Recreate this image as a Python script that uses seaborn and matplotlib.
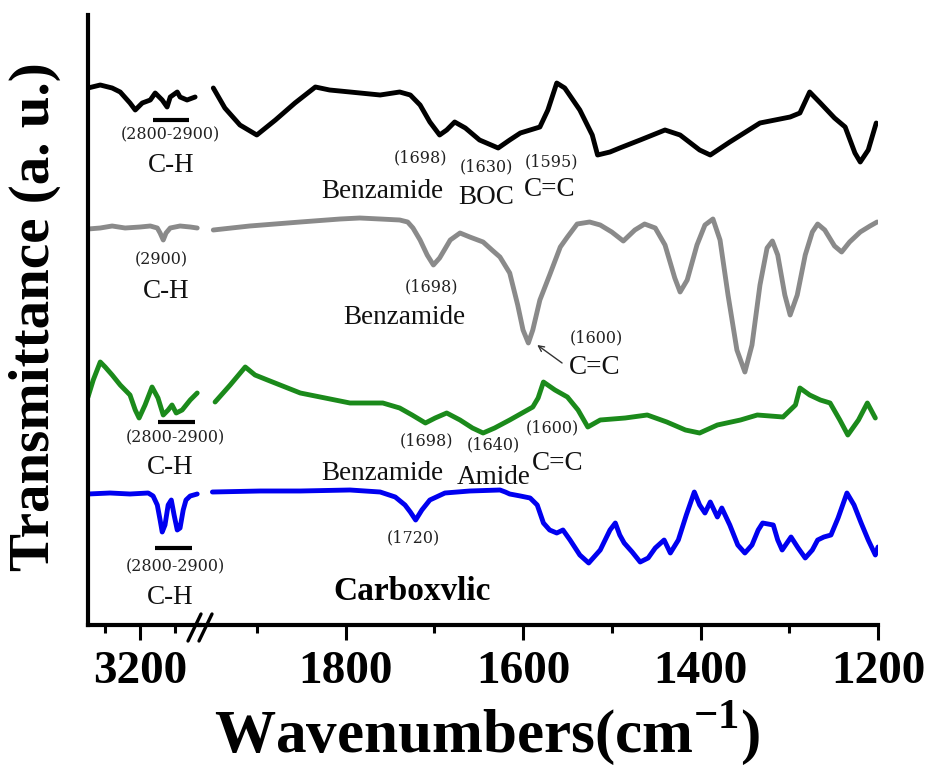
import matplotlib
matplotlib.use("Agg")
import matplotlib.pyplot as plt
import seaborn as sns
from matplotlib.lines import Line2D

sns.set_style("ticks")
plt.rcParams["font.family"] = ["Liberation Serif", "DejaVu Serif"]
plt.rcParams["mathtext.fontset"] = "custom"
plt.rcParams["mathtext.rm"] = "Liberation Serif"
plt.rcParams["mathtext.bf"] = "Liberation Serif:bold"
plt.rcParams["text.color"] = "black"
plt.rcParams["axes.edgecolor"] = "black"
plt.rcParams["xtick.color"] = "black"
plt.rcParams["xtick.labelcolor"] = "black"

# ---------------- spectra (wavenumber in cm-1, transmittance in a.u., stacked) ----------------
# high-wavenumber window (C-H stretch region)
black_hi_wn = [3349, 3314, 3280, 3257, 3229, 3214, 3194, 3171, 3157, 3137, 3123, 3114, 3094, 3086, 3066, 3043]
black_hi_t = [537, 540, 537, 533, 522, 515, 522, 525, 532, 525, 518, 528, 533, 528, 525, 528]

gray_hi_wn = [3349, 3314, 3280, 3243, 3200, 3171, 3151, 3143, 3134, 3126, 3114, 3086, 3057, 3037]
gray_hi_t = [396, 397, 399, 397, 398, 399, 397, 392, 385, 392, 397, 399, 398, 397]

green_hi_wn = [3349, 3334, 3314, 3300, 3280, 3257, 3229, 3214, 3203, 3186, 3166, 3149, 3134, 3120, 3109, 3097, 3080, 3057, 3037]
green_hi_t = [228, 245, 263, 258, 250, 240, 230, 215, 207, 220, 238, 227, 210, 215, 220, 212, 215, 225, 232]

blue_hi_wn = [3349, 3286, 3229, 3177, 3163, 3151, 3143, 3137, 3129, 3120, 3111, 3103, 3094, 3086, 3077, 3069, 3057, 3037]
blue_hi_t = [131, 132, 131, 132, 129, 120, 105, 93, 100, 120, 125, 110, 95, 97, 115, 125, 129, 131]

# fingerprint window
black_lo_wn = [1949, 1936, 1919, 1900, 1879, 1857, 1834, 1818, 1795, 1761, 1739, 1727, 1716, 1705, 1694, 1686,
               1677, 1665, 1649, 1628, 1615, 1603, 1581, 1572, 1562, 1553, 1536, 1522, 1516, 1502, 1491, 1468,
               1440, 1423, 1401, 1389, 1367, 1333, 1299, 1288, 1277, 1265, 1249, 1237, 1226, 1220, 1211, 1202]
black_lo_t = [537, 517, 500, 490, 505, 522, 538, 535, 533, 530, 533, 530, 520, 503, 490, 495,
              503, 497, 485, 477, 485, 492, 498, 515, 542, 537, 515, 490, 470, 473, 477, 485,
              495, 490, 475, 470, 483, 502, 508, 512, 533, 522, 507, 498, 472, 463, 475, 502]

gray_lo_wn = [1949, 1908, 1851, 1806, 1784, 1761, 1739, 1730, 1724, 1716, 1708, 1701, 1694, 1682, 1671, 1660,
              1645, 1635, 1626, 1615, 1606, 1600, 1594, 1589, 1581, 1570, 1558, 1550, 1539, 1525, 1513, 1500,
              1487, 1474, 1463, 1451, 1440, 1429, 1423, 1415, 1404, 1395, 1386, 1378, 1369, 1359, 1350, 1342,
              1333, 1325, 1319, 1313, 1305, 1299, 1291, 1282, 1274, 1268, 1260, 1249, 1241, 1232, 1220, 1209, 1201]
gray_lo_t = [395, 399, 403, 406, 407, 406, 405, 403, 397, 385, 370, 360, 367, 385, 392, 388,
             383, 375, 368, 352, 320, 295, 282, 295, 325, 350, 378, 388, 401, 403, 400, 393,
             384, 395, 401, 397, 380, 347, 333, 345, 380, 400, 406, 385, 330, 275, 253, 280,
             340, 377, 384, 370, 330, 310, 330, 370, 393, 401, 395, 379, 373, 383, 393, 399, 403]

green_lo_wn = [1947, 1930, 1913, 1902, 1888, 1851, 1795, 1758, 1739, 1725, 1710, 1699, 1686, 1671, 1657, 1645,
               1632, 1615, 1589, 1583, 1577, 1564, 1550, 1538, 1527, 1513, 1485, 1460, 1438, 1417, 1401, 1381,
               1355, 1336, 1307, 1293, 1288, 1277, 1265, 1254, 1243, 1234, 1222, 1212, 1203]
green_lo_t = [223, 240, 258, 250, 245, 232, 222, 222, 217, 210, 202, 207, 212, 205, 197, 192,
              197, 205, 218, 227, 243, 235, 228, 215, 198, 205, 207, 210, 203, 195, 192, 200,
              205, 210, 208, 220, 237, 230, 225, 222, 205, 190, 205, 222, 207]

blue_lo_wn = [1950, 1896, 1851, 1795, 1761, 1744, 1733, 1727, 1721, 1714, 1705, 1688, 1660, 1626, 1620, 1615,
              1603, 1592, 1584, 1577, 1570, 1562, 1555, 1547, 1536, 1526, 1513, 1502, 1496, 1491, 1486, 1477,
              1468, 1459, 1451, 1441, 1434, 1425, 1416, 1407, 1401, 1395, 1389, 1381, 1376, 1367, 1358, 1350,
              1342, 1335, 1330, 1318, 1313, 1308, 1298, 1290, 1282, 1274, 1268, 1261, 1253, 1245, 1235, 1227,
              1219, 1211, 1203, 1200]
blue_lo_t = [133, 134, 134, 135, 133, 128, 120, 113, 105, 115, 125, 132, 134, 135, 133, 131,
             129, 127, 120, 102, 95, 92, 95, 85, 70, 62, 75, 95, 102, 90, 82, 73,
             63, 67, 77, 85, 72, 85, 110, 133, 120, 112, 123, 108, 117, 100, 80, 72,
             80, 95, 102, 100, 85, 75, 88, 77, 67, 75, 85, 88, 90, 107, 132, 120,
             102, 85, 70, 78]

COLORS = {"black": "#000000", "gray": "#8a8a8a", "green": "#1b8a1b", "blue": "#0000f0"}

hi_ticks, hi_minor = [3200], [3300, 3100]
lo_ticks, lo_minor = [1800, 1600, 1400, 1200], [1900, 1700, 1500, 1300]

# ---------------- figure with a broken wavenumber axis ----------------
W, H = 927, 766
fig = plt.figure(figsize=(W / 100, H / 100), dpi=100)
x0, xb, x1 = 88 / W, 200 / W, 878 / W
y0, y1 = 1 - 625 / H, 1 - 15 / H
ax_hi = fig.add_axes([x0, y0, xb - x0, y1 - y0])
ax_lo = fig.add_axes([xb, y0, x1 - xb, y1 - y0])
ax_hi.set_xlim(3349, 3029)
ax_lo.set_xlim(1964, 1200)
for ax in (ax_hi, ax_lo):
    ax.set_ylim(0, 610)
    ax.set_facecolor("none")

lw = 3.5
for ax, pairs in ((ax_hi, [(black_hi_wn, black_hi_t, "black"), (gray_hi_wn, gray_hi_t, "gray"),
                           (green_hi_wn, green_hi_t, "green"), (blue_hi_wn, blue_hi_t, "blue")]),
                  (ax_lo, [(black_lo_wn, black_lo_t, "black"), (gray_lo_wn, gray_lo_t, "gray"),
                           (green_lo_wn, green_lo_t, "green"), (blue_lo_wn, blue_lo_t, "blue")])):
    for wn, t, c in pairs:
        sns.lineplot(x=wn, y=t, ax=ax, color=COLORS[c], linewidth=lw, sort=False,
                     estimator=None, legend=False, solid_joinstyle="round", solid_capstyle="round")
    ax.set_xlabel("")
    ax.set_ylabel("")
    ax.set_yticks([])

# spines
for ax in (ax_hi, ax_lo):
    ax.spines["top"].set_visible(False)
    ax.spines["right"].set_visible(False)
    ax.spines["bottom"].set_linewidth(3)
    ax.spines["bottom"].set_color("black")
ax_hi.spines["left"].set_linewidth(3)
ax_hi.spines["left"].set_color("black")
ax_lo.spines["left"].set_visible(False)

tick_font = dict(family="Liberation Serif", weight="bold", size=34, color="black")
for ax, major, minor in ((ax_hi, hi_ticks, hi_minor), (ax_lo, lo_ticks, lo_minor)):
    ax.set_xticks(major)
    ax.set_xticks(minor, minor=True)
    ax.set_xticklabels([str(v) for v in major], fontdict=tick_font)
    ax.tick_params(axis="x", which="major", direction="out", length=11, width=2.2, pad=8, color="black")
    ax.tick_params(axis="x", which="minor", direction="out", length=6, width=2.2, color="black")

# axis break marks
for dx in (-5, 6):
    fig.add_artist(Line2D([(200 + dx - 7) / W, (200 + dx + 6) / W],
                          [1 - 641 / H, 1 - 614 / H], color="black", lw=2.4,
                          transform=fig.transFigure))

# axis titles
fig.text(487 / W, 1 - 752 / H, r"Wavenumbers(cm$^{\mathbf{-1}}$)", ha="center", va="baseline",
         family="Liberation Serif", weight="bold", size=44, color="black")
fig.text(35 / W, 1 - 317 / H, "Transmittance (a. u.)", rotation=90, ha="center", va="center",
         family="Liberation Serif", weight="bold", size=41, color="black")

# ---------------- peak annotations ----------------
small = dict(family="DejaVu Serif", size=11.5, ha="center", va="center", color="#222222")
big = dict(family="Liberation Serif", size=19.5, ha="center", va="center", color="#111111")

# C-H stretch markers
ax_hi.plot([3163, 3060], [505, 505], color="black", lw=3, solid_capstyle="butt")
ax_hi.plot([3149, 3043], [203, 203], color="black", lw=3, solid_capstyle="butt")
ax_hi.plot([3157, 3051], [77, 77], color="black", lw=3, solid_capstyle="butt")
ax_hi.text(3114, 490, "(2800-2900)", **small)
ax_hi.text(3111, 459, "C-H", **big)
ax_hi.text(3140, 365, "(2900)", **small)
ax_hi.text(3126, 333, "C-H", **big)
ax_hi.text(3100, 187, "(2800-2900)", **small)
ax_hi.text(3114, 157, "C-H", **big)
ax_hi.text(3100, 58, "(2800-2900)", **small)
ax_hi.text(3114, 27, "C-H", **big)

# top spectrum
ax_lo.text(1716, 467, "(1698)", **small)
ax_lo.text(1759, 433, "Benzamide", **big)
ax_lo.text(1641, 458, "(1630)", **small)
ax_lo.text(1641, 428, "BOC", **big)
ax_lo.text(1568, 463, "(1595)", **small)
ax_lo.text(1570, 435, "C=C", **big)

# second spectrum
ax_lo.text(1703, 338, "(1698)", **small)
ax_lo.text(1734, 308, "Benzamide", **big)
ax_lo.text(1517, 287, "(1600)", **small)
ax_lo.text(1519, 258, "C=C", **big)
ax_lo.annotate("", xy=(1584, 280), xytext=(1556, 262),
               arrowprops=dict(arrowstyle="->", color="#333333", lw=1.0, shrinkA=0, shrinkB=0))

# third spectrum
ax_lo.text(1709, 184, "(1698)", **small)
ax_lo.text(1633, 180, "(1640)", **small)
ax_lo.text(1567, 197, "(1600)", **small)
ax_lo.text(1561, 162, "C=C", **big)
ax_lo.text(1759, 152, "Benzamide", **big)
ax_lo.text(1633, 148, "Amide", **big)

# bottom spectrum
ax_lo.text(1724, 87, "(1720)", **small)
ax_lo.text(1725, 33, "Carboxvlic", family="Liberation Serif", weight="bold", size=24,
           ha="center", va="center", color="black")

fig.savefig("out.png", dpi=100)
